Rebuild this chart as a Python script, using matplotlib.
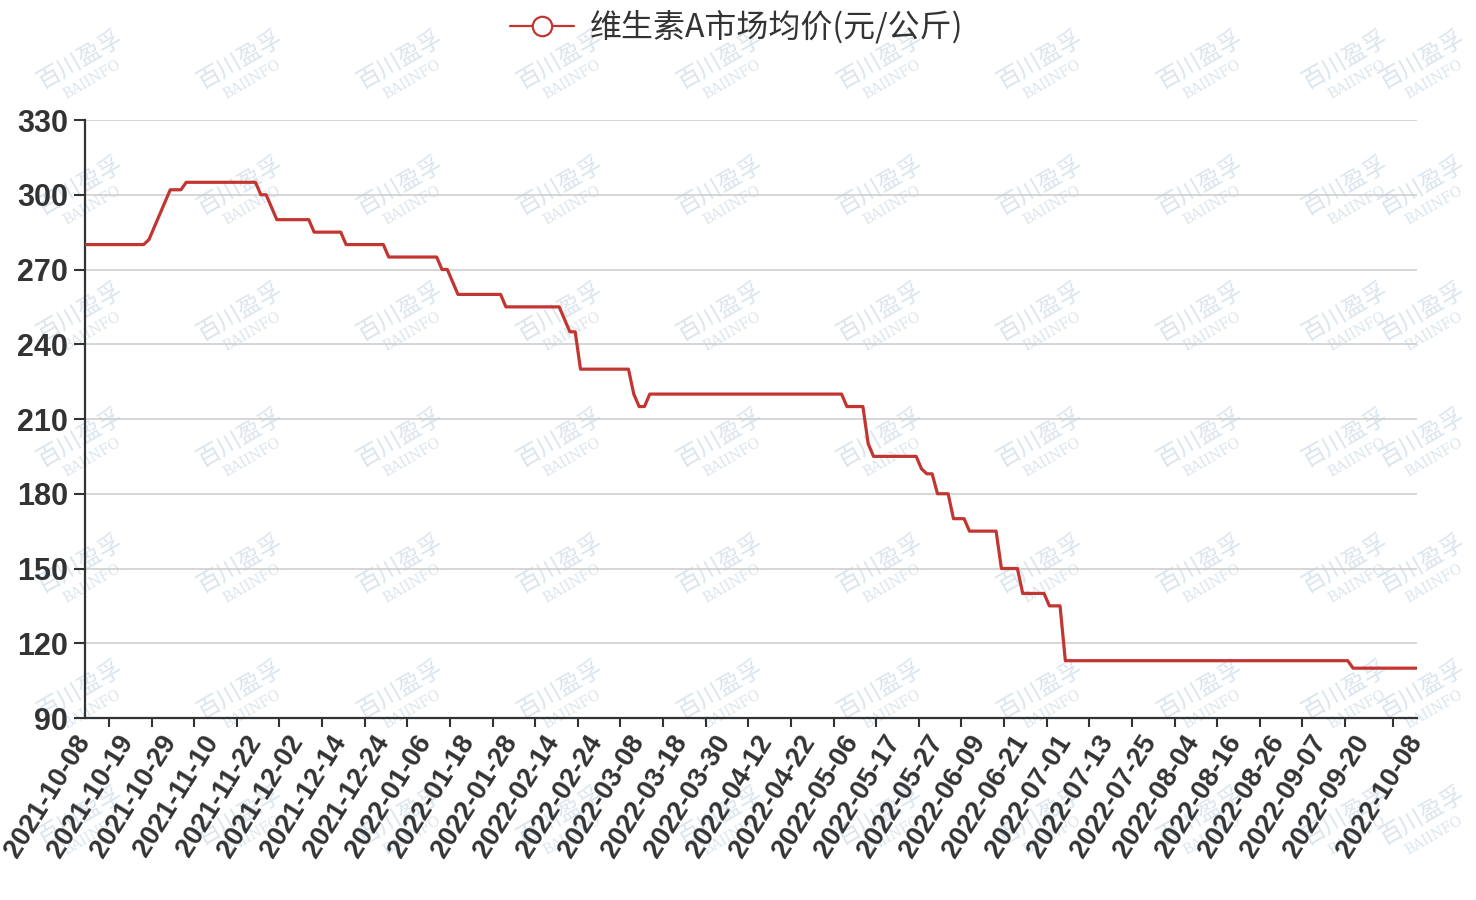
# -*- coding: utf-8 -*-
"""
维生素A市场均价 折线图
"""

import matplotlib.pyplot as plt
import numpy as np

# 价格台阶 (元/公斤) 及每个台阶持续的数据点数
levels = [280, 282, 287, 292, 297, 302, 305, 300, 295, 290, 285, 280, 275, 270,
          265, 260, 255, 250, 245, 230, 220, 215, 220, 215, 200, 195, 190, 188,
          180, 170, 165, 150, 140, 135, 113, 110]
counts = [12, 1, 1, 1, 1, 3, 14, 2, 1, 7, 6, 8, 10, 2,
          1, 9, 11, 1, 2, 10, 1, 2, 37, 4, 1, 9, 1, 2,
          3, 3, 6, 4, 5, 3, 54, 13]

date_labels = ['2021-10-08', '2021-10-19', '2021-10-29', '2021-11-10', '2021-11-22',
               '2021-12-02', '2021-12-14', '2021-12-24', '2022-01-06', '2022-01-18',
               '2022-01-28', '2022-02-14', '2022-02-24', '2022-03-08', '2022-03-18',
               '2022-03-30', '2022-04-12', '2022-04-22', '2022-05-06', '2022-05-17',
               '2022-05-27', '2022-06-09', '2022-06-21', '2022-07-01', '2022-07-13',
               '2022-07-25', '2022-08-04', '2022-08-16', '2022-08-26', '2022-09-07',
               '2022-09-20', '2022-10-08']
label_step = 8

series_name = '维生素A市场均价(元/公斤)'
y_ticks = [90, 120, 150, 180, 210, 240, 270, 300, 330]


def draw():
    price = np.repeat(levels, counts)
    n = len(price)
    x = np.arange(n)

    W, H = 1476, 900
    fig = plt.figure(figsize=(W / 100, H / 100), dpi=100)
    fig.patch.set_facecolor('white')

    # 水印
    cols = [80, 240, 400, 560, 720, 880, 1040, 1200, 1345, 1422]
    rows = [60 + 126 * r for r in range(7)]
    for cx in cols:
        for cy in rows:
            fig.text(cx / W, 1 - cy / H, '百川盈孚', family=['Noto Sans CJK SC', 'DejaVu Sans'],
                     fontsize=17, color='#dbe5ee', rotation=30, ha='center', va='center', zorder=0)
            fig.text((cx + 12) / W, 1 - (cy + 20) / H, 'BAIINFO', family='DejaVu Serif',
                     fontsize=10, color='#dbe5ee', rotation=30, ha='center', va='center', zorder=0)

    ax = fig.add_axes([85 / W, 1 - 718 / H, (1417 - 85) / W, (718 - 120) / H])
    ax.set_zorder(1)
    ax.patch.set_alpha(0)

    line, = ax.plot(x, price, color='#c23531', lw=2.3, solid_joinstyle='round',
                    solid_capstyle='round', zorder=3, label=series_name)

    ax.set_xlim(0, n - 1)
    ax.set_ylim(y_ticks[0], y_ticks[-1])
    ax.set_yticks(y_ticks)
    ax.yaxis.grid(True, color='#cccccc', lw=1.1)
    ax.set_axisbelow(True)

    for s in ['top', 'right']:
        ax.spines[s].set_visible(False)
    for s in ['left', 'bottom']:
        ax.spines[s].set_color('#333333')
        ax.spines[s].set_linewidth(1.6)

    ax.tick_params(axis='y', direction='out', length=8, width=1.5, color='#333333',
                   pad=4, labelsize=22, labelcolor='#333333')
    for t in ax.get_yticklabels():
        t.set_fontweight('bold')
        t.set_family('Liberation Sans')

    pos = [i * label_step for i in range(len(date_labels) - 1)] + [n - 1]
    ax.set_xticks(pos)
    ax.set_xticklabels(date_labels, rotation=58, ha='right', va='center',
                       rotation_mode='anchor', fontsize=19.5, fontweight='bold',
                       family='Liberation Sans', color='#333333')
    ax.tick_params(axis='x', which='major', length=0, pad=14)
    ax.set_xticks([(a + b) / 2 + 0.5 for a, b in zip(pos[:-1], pos[1:])], minor=True)
    ax.tick_params(axis='x', which='minor', direction='out', length=6.5, width=1.5,
                   color='#333333')

    leg = fig.legend(handles=[line], loc='center', bbox_to_anchor=(737 / W, 1 - 27 / H),
                     frameon=False, handlelength=2.0, handletextpad=0.5,
                     prop={'family': ['Noto Sans CJK SC', 'DejaVu Sans'], 'size': 23})
    line_leg = leg.get_lines()[0]
    line_leg.set_marker('o')
    line_leg.set_markersize(14)
    line_leg.set_markerfacecolor('white')
    line_leg.set_markeredgecolor('#c23531')
    line_leg.set_markeredgewidth(1.6)
    line_leg.set_linewidth(1.6)
    for t in leg.get_texts():
        t.set_color('#333333')

    fig.savefig('out.png', dpi=100)


if __name__ == "__main__":
    draw()
